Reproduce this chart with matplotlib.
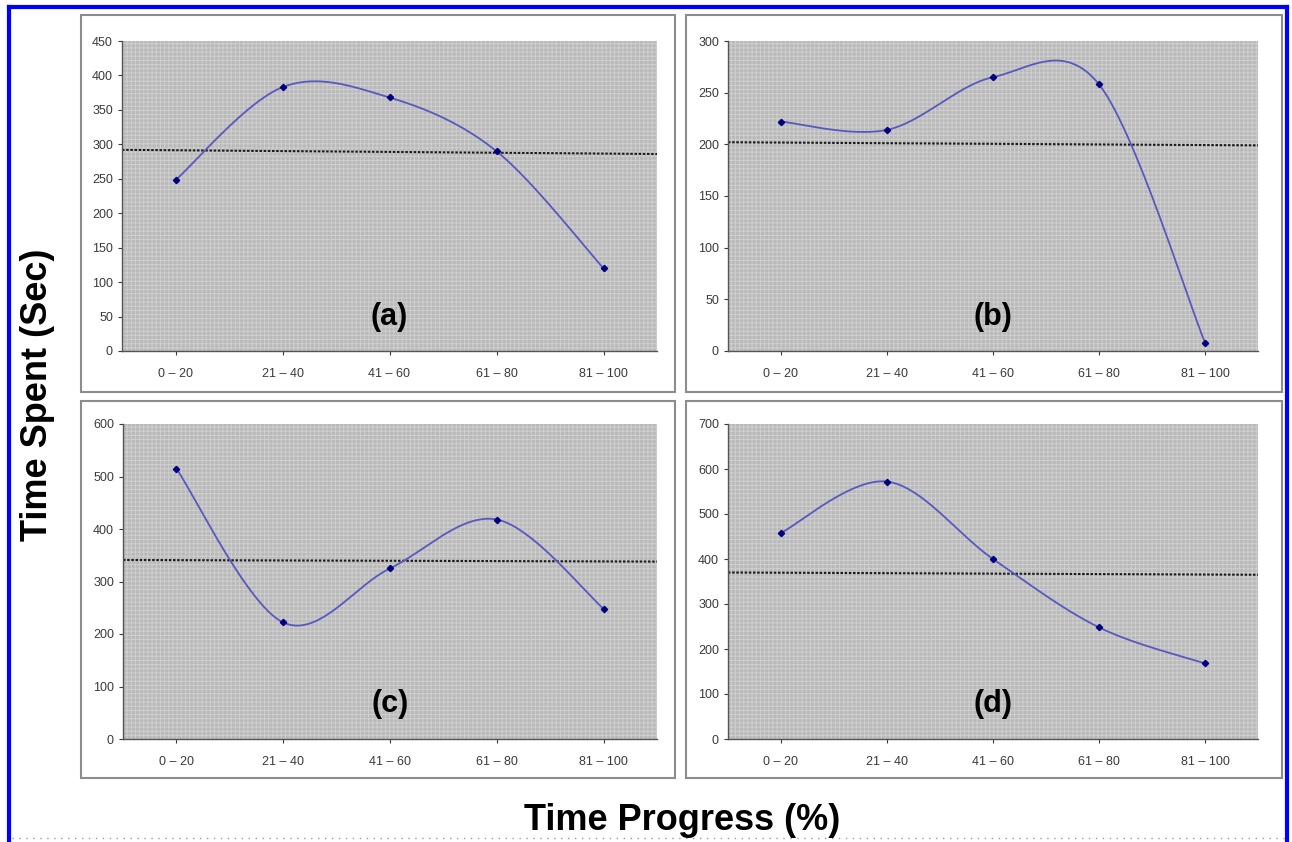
import numpy as np
import matplotlib
matplotlib.use('Agg')
from matplotlib import pyplot as plt
from matplotlib.patches import Rectangle

categories = ['0 – 20', '21 – 40', '41 – 60', '61 – 80', '81 – 100']

time_a = [248, 383, 368, 290, 120]
time_b = [222, 214, 265, 258, 8]
time_c = [515, 222, 325, 418, 248]
time_d = [458, 572, 400, 248, 168]

# dotted reference line, value at left and right edge
avg_a = [292, 286]
avg_b = [202, 199]
avg_c = [341, 338]
avg_d = [370, 365]

ymax = [450, 300, 600, 700]
ystep = [50, 50, 100, 100]
panel_labels = ['(a)', '(b)', '(c)', '(d)']

plt.rcParams['font.family'] = ['Liberation Sans', 'DejaVu Sans']
plt.rcParams['hatch.linewidth'] = 0.7


def smooth(y, n=40):
  # excel-like smoothed line (catmull-rom through the points)
  x = np.arange(len(y), dtype=float)
  p = np.column_stack([x, np.asarray(y, dtype=float)])
  p = np.vstack([p[0], p, p[-1]])
  out = []
  for i in range(1, len(p) - 2):
    p0, p1, p2, p3 = p[i-1], p[i], p[i+1], p[i+2]
    c1 = p1 + (p2 - p0) / 6
    c2 = p2 - (p3 - p1) / 6
    t = np.linspace(0, 1, n)[:, None]
    seg = (1-t)**3*p1 + 3*(1-t)**2*t*c1 + 3*(1-t)*t**2*c2 + t**3*p2
    out.append(seg if i == 1 else seg[1:])
  out = np.vstack(out)
  return out[:, 0], out[:, 1]


fig = plt.figure(figsize=(12.92, 8.42), dpi=100)
W, H = 1292., 842.

# blue frame round the picture
fig.add_artist(plt.Line2D([9/W, 9/W], [0, 1-7/H], color='#0000ff', lw=3, transform=fig.transFigure))
fig.add_artist(plt.Line2D([9/W, 1287/W], [1-7/H, 1-7/H], color='#0000ff', lw=3, transform=fig.transFigure))
fig.add_artist(plt.Line2D([1287/W, 1287/W], [0, 1-7/H], color='#0000ff', lw=3, transform=fig.transFigure))
fig.add_artist(plt.Line2D([12/W, 1284/W], [4/H, 4/H], color='#999999', lw=1, ls=(0, (1, 4)), transform=fig.transFigure))

boxes = [(81, 15, 675, 392), (686, 15, 1282, 392), (81, 401, 675, 778), (686, 401, 1282, 778)]
plots = [(122, 41, 657, 351), (728, 41, 1258, 351), (123, 424, 657, 739), (728, 424, 1258, 739)]
series = [time_a, time_b, time_c, time_d]
avgs = [avg_a, avg_b, avg_c, avg_d]

for k in range(4):
  x0, y0, x1, y1 = boxes[k]
  fig.add_artist(Rectangle((x0/W, 1-y1/H), (x1-x0)/W, (y1-y0)/H, transform=fig.transFigure,
                           facecolor='white', edgecolor='#8c8c8c', lw=1.5, zorder=0))
  px0, py0, px1, py1 = plots[k]
  ax = fig.add_axes([px0/W, 1-py1/H, (px1-px0)/W, (py1-py0)/H])
  ax.set_facecolor('#b9b9b9')
  ax.add_patch(Rectangle((0, 0), 1, 1, transform=ax.transAxes, facecolor='none',
                         edgecolor='#cfcfcf', hatch='++++', lw=0, zorder=0))
  xs = np.arange(len(categories))
  sx, sy = smooth(series[k])
  ax.plot(sx, sy, color='#5858c0', lw=1.3, zorder=3)
  ax.plot(xs, series[k], ls='none', marker='D', ms=3.2, color='#000080', zorder=4)
  ax.plot([-0.5, 4.5], avgs[k], color='#1a1a1a', lw=1.5, ls=(0, (1.2, 0.8)), zorder=2)
  ax.set_xlim(-0.5, 4.5)
  ax.set_ylim(0, ymax[k])
  ax.set_yticks(np.arange(0, ymax[k] + 1, ystep[k]))
  ax.set_xticks(xs)
  ax.set_xticklabels(categories)
  ax.tick_params(labelsize=9, colors='#3a3a3a', length=3, width=0.8)
  ax.tick_params(axis='x', pad=9)
  for s in ['top', 'right']:
    ax.spines[s].set_visible(False)
  for s in ['left', 'bottom']:
    ax.spines[s].set_color('#555555')
    ax.spines[s].set_linewidth(1)
  ax.text(0.5, 0.11, panel_labels[k], transform=ax.transAxes, ha='center', va='center',
          fontsize=22, fontweight='bold')

fig.text(38/W, 1-395/H, 'Time Spent (Sec)', rotation=90, ha='center', va='center',
         fontsize=26, fontweight='bold')
fig.text(682/W, 1-820/H, 'Time Progress (%)', ha='center', va='center',
         fontsize=26, fontweight='bold')

plt.savefig('out.png', dpi=100)
